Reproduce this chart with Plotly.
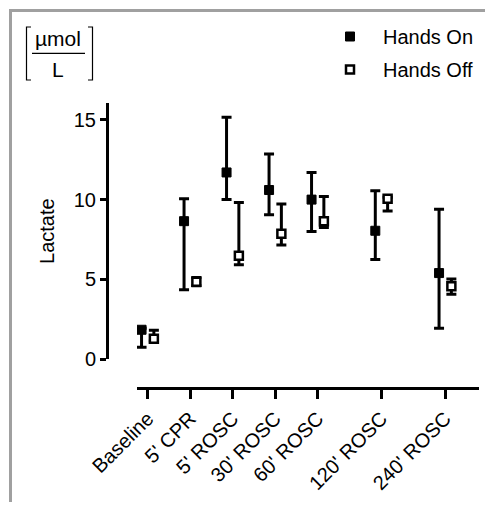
import plotly.graph_objects as go

categories = ["Baseline", "5' CPR", "5' ROSC", "30' ROSC", "60' ROSC", "120' ROSC", "240' ROSC"]
tick_pos = [0, 1, 2, 3, 4, 5.5, 7]

on_val = [1.85, 8.65, 11.7, 10.6, 10.0, 8.05, 5.4]
on_hi = [1.95, 10.05, 15.15, 12.85, 11.7, 10.55, 9.4]
on_lo = [0.75, 4.35, 10.0, 9.05, 8.0, 6.25, 1.95]

off_val = [1.28, 4.85, 6.48, 7.86, 8.65, 10.05, 4.57]
off_hi = [1.82, 5.12, 9.82, 9.72, 10.2, 10.15, 5.03]
off_lo = [1.15, 4.6, 5.92, 7.15, 8.25, 9.28, 4.07]

# page body has an 8px margin on every side: work in screen pixels and convert
OFF = 8
W, H = 477, 494
ML = 107 - OFF
MT = 103 - OFF
MR = W - (479 - OFF)
MB = H - (388 - OFF)
PW, PH = W - ML - MR, H - MT - MB


def px(x):
    return (x - OFF - ML) / PW


def py(y):
    return (H - MB - (y - OFF)) / PH


shift = 0.145
fig = go.Figure()
fig.add_trace(go.Scatter(
    x=[p - shift for p in tick_pos], y=on_val, mode="markers", name="Hands On",
    legendgroup="a",
    marker=dict(symbol="square", size=9, color="black", line=dict(color="black", width=1)),
    error_y=dict(type="data", symmetric=False,
                 array=[h - v for h, v in zip(on_hi, on_val)],
                 arrayminus=[v - l for v, l in zip(on_val, on_lo)],
                 color="black", thickness=3, width=5),
))
fig.add_trace(go.Scatter(
    x=[p + shift for p in tick_pos], y=off_val, mode="markers", name="Hands Off",
    legendgroup="b",
    marker=dict(symbol="square", size=8, color="white", line=dict(color="black", width=2.5)),
    error_y=dict(type="data", symmetric=False,
                 array=[h - v for h, v in zip(off_hi, off_val)],
                 arrayminus=[v - l for v, l in zip(off_val, off_lo)],
                 color="black", thickness=3, width=5),
))

font = "Liberation Sans, Arial, sans-serif"
right_edge = OFF + W
bottom_edge = OFF + H
shapes = [
    dict(type="line", xref="paper", yref="paper", x0=px(10.5), x1=px(10.5), y0=py(9), y1=py(bottom_edge),
         line=dict(color="#a0a0a0", width=3)),
    dict(type="line", xref="paper", yref="paper", x0=px(9), x1=px(right_edge), y0=py(10.5), y1=py(10.5),
         line=dict(color="#a0a0a0", width=3)),
    dict(type="line", xref="paper", yref="paper", x0=px(32), x1=px(85), y0=py(53.3), y1=py(53.3),
         line=dict(color="black", width=1.2)),
    dict(type="path", xref="paper", yref="paper",
         path=f"M {px(31)} {py(27)} L {px(26.5)} {py(27)} L {px(26.5)} {py(80)} L {px(31)} {py(80)}",
         line=dict(color="black", width=1.2)),
    dict(type="path", xref="paper", yref="paper",
         path=f"M {px(88)} {py(27)} L {px(92.5)} {py(27)} L {px(92.5)} {py(80)} L {px(88)} {py(80)}",
         line=dict(color="black", width=1.2)),
]

annotations = [
    dict(text="µmol", xref="paper", yref="paper", x=px(58), y=py(39), showarrow=False,
         xanchor="center", yanchor="middle", font=dict(size=21, color="black", family=font)),
    dict(text="L", xref="paper", yref="paper", x=px(58), y=py(69.5), showarrow=False,
         xanchor="center", yanchor="middle", font=dict(size=21, color="black", family=font)),
]

fig.update_layout(
    width=W, height=H,
    margin=dict(l=ML, r=MR, t=MT, b=MB),
    paper_bgcolor="white", plot_bgcolor="white",
    font=dict(family=font, size=20, color="black"),
    showlegend=True,
    legend=dict(x=px(317), y=py(17), xanchor="left", yanchor="top",
                font=dict(size=20, family=font), itemwidth=56,
                tracegroupgap=4, traceorder="grouped", bgcolor="rgba(0,0,0,0)"),
    xaxis=dict(domain=[(137 - OFF - ML) / PW, 1], range=[-0.252, 7.795],
               tickvals=tick_pos, ticktext=categories, tickangle=-45,
               showline=True, linecolor="black", linewidth=3,
               ticks="outside", ticklen=9, tickwidth=3, tickcolor="black",
               showgrid=False, zeroline=False, anchor="free", position=0,
               tickfont=dict(size=20)),
    yaxis=dict(domain=[py(359.3), 1],
               range=[0, 16.05], tickvals=[0, 5, 10, 15],
               showline=True, linecolor="black", linewidth=3,
               ticks="outside", ticklen=6, tickwidth=3, tickcolor="black",
               showgrid=False, zeroline=False, anchor="free", position=0,
               title=dict(text="Lactate", font=dict(size=20), standoff=12),
               tickfont=dict(size=20)),
    shapes=shapes, annotations=annotations,
)

fig.write_html("out.html")
